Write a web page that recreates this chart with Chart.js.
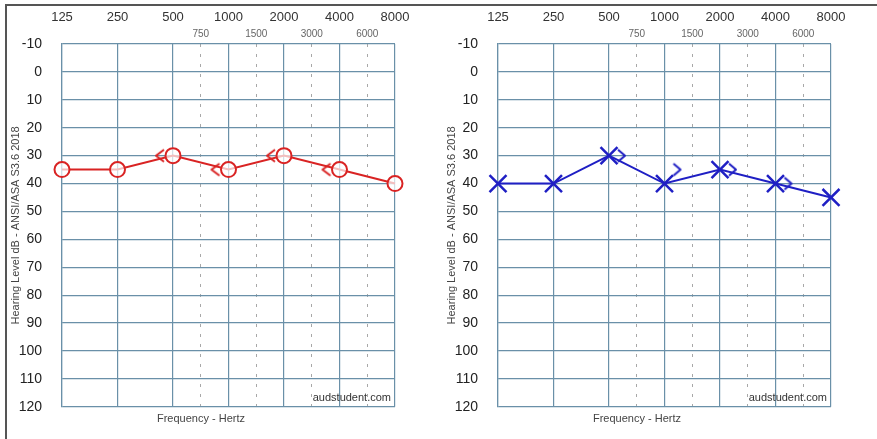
<!DOCTYPE html>
<html>
<head>
<meta charset="utf-8">
<script src="https://cdn.jsdelivr.net/npm/chart.js@4.4.0/dist/chart.umd.min.js"></script>
<style>
    body { margin: 0; background: #fff; }
    #page { position: relative; width: 877px; height: 439px; overflow: hidden; }
    #cadre { position: absolute; left: 5px; top: 4px; right: 0; bottom: 0; border-left: 2px solid #555; border-top: 2px solid #555; }
    canvas { position: absolute; top: 0; }
</style>
</head>
<body>
<div id="page">
    <div id="cadre"></div>
    <canvas id="gauche" width="437" height="439" style="left:0"></canvas>
    <canvas id="droite" width="437" height="439" style="left:436px"></canvas>
</div>
<script>
// fréquences (Hz) en octaves, et demi-octaves
const frequences = ['125', '250', '500', '1000', '2000', '4000', '8000'];
const demiOctaves = ['750', '1500', '3000', '6000'];
const positionsDemi = [2.5, 3.5, 4.5, 5.5];

// oreille droite (rouge) : conduction aérienne et osseuse
const aerienneDroite = [35, 35, 30, 35, 30, 35, 40];
const osseuseDroiteX = [2, 3, 4, 5];
const osseuseDroite = [30, 35, 30, 35];

// oreille gauche (bleu)
const aerienneGauche = [40, 40, 30, 40, 35, 40, 45];
const osseuseGaucheX = [2, 3, 4, 5];
const osseuseGauche = [30, 35, 35, 40];

const ROUGE = '#d92323';
const BLEU = '#1f1fc4';
const GRILLE = '#6a90a8';
const POLICE = 'Liberation Sans, Arial, sans-serif';

/**
 * Dessine un chevron < ou > dans un petit canvas, décalé du centre
 */
function chevron(sens, couleur) {
    const c = document.createElement('canvas');
    c.width = 40;
    c.height = 18;
    const ctx = c.getContext('2d');
    ctx.strokeStyle = couleur;
    ctx.lineWidth = 2;
    ctx.lineJoin = 'round';
    ctx.beginPath();
    if (sens === '<') {
        ctx.moveTo(11, 3);
        ctx.lineTo(3, 9);
        ctx.lineTo(11, 15);
    } else {
        ctx.moveTo(29, 3);
        ctx.lineTo(36, 9);
        ctx.lineTo(29, 15);
    }
    ctx.stroke();
    return c;
}

const filigrane = {
    id: 'filigrane',
    afterDraw(chart) {
        const {ctx, chartArea} = chart;
        ctx.save();
        ctx.font = '11px ' + POLICE;
        ctx.fillStyle = '#333';
        ctx.textAlign = 'right';
        ctx.textBaseline = 'middle';
        ctx.fillText('audstudent.com', chartArea.right - 4, chartArea.bottom - 9);
        ctx.restore();
    }
};

function audiogramme(id, aerienne, osseuseX, osseuse, couleur, style, sens) {
    const ctx = document.getElementById(id).getContext('2d');
    const pointsAir = aerienne.map((v, i) => ({x: i, y: v}));
    const pointsOs = osseuse.map((v, i) => ({x: osseuseX[i], y: v}));
    const air = {
        label: 'AC',
        data: pointsAir,
        clip: false,
        borderColor: couleur,
        borderWidth: 2,
        pointStyle: style,
        pointBorderColor: couleur,
        pointBackgroundColor: 'rgba(255,255,255,0.7)',
        pointBorderWidth: style === 'circle' ? 2 : 2.5,
        pointRadius: style === 'circle' ? 7.5 : 12,
        fill: false
    };
    const os = {
        label: 'BC',
        data: pointsOs,
        clip: false,
        showLine: false,
        pointStyle: chevron(sens, couleur)
    };
    return new Chart(ctx, {
        type: 'line',
        data: {datasets: [air, os]},
        plugins: [filigrane],
        options: {
            responsive: false,
            animation: false,
            layout: {padding: {left: 7, right: 42, top: 6, bottom: 0}},
            scales: {
                x: {
                    type: 'linear',
                    position: 'top',
                    min: 0,
                    max: 6,
                    weight: 1,
                    afterBuildTicks: s => { s.ticks = frequences.map((f, i) => ({value: i})); },
                    afterFit: s => { s.height = 21; },
                    ticks: {
                        autoSkip: false,
                        maxRotation: 0,
                        padding: 2,
                        color: '#333',
                        font: {family: POLICE, size: 13},
                        callback: v => frequences[v]
                    },
                    grid: {color: GRILLE, lineWidth: 1.2, drawTicks: false},
                    border: {display: false}
                },
                x2: {
                    type: 'linear',
                    position: 'top',
                    min: 0,
                    max: 6,
                    weight: 0,
                    afterBuildTicks: s => { s.ticks = positionsDemi.map(p => ({value: p})); },
                    afterFit: s => { s.height = 17; },
                    ticks: {
                        autoSkip: false,
                        maxRotation: 0,
                        padding: 4,
                        color: '#666',
                        font: {family: POLICE, size: 10},
                        callback: v => demiOctaves[positionsDemi.indexOf(v)]
                    },
                    grid: {color: '#a8a8a8', drawTicks: false},
                    border: {display: false, dash: [3, 7]}
                },
                y: {
                    type: 'linear',
                    reverse: true,
                    min: -10,
                    max: 120,
                    afterFit: s => { s.width = 55; },
                    ticks: {
                        stepSize: 10,
                        padding: 20,
                        color: '#222',
                        font: {family: POLICE, size: 14}
                    },
                    grid: {color: GRILLE, lineWidth: 1.2, drawTicks: false},
                    border: {color: GRILLE, width: 1.2},
                    title: {
                        display: true,
                        text: 'Hearing Level dB - ANSI/ASA S3.6 2018',
                        color: '#444',
                        font: {family: POLICE, size: 11},
                        padding: {top: 2, bottom: 0}
                    }
                }
            },
            plugins: {
                legend: {display: false},
                tooltip: {enabled: false},
                title: {
                    display: true,
                    position: 'bottom',
                    text: 'Frequency - Hertz',
                    color: '#444',
                    font: {family: POLICE, size: 11, weight: 'normal'},
                    padding: {top: 6, bottom: 13}
                }
            }
        }
    });
}

audiogramme('gauche', aerienneDroite, osseuseDroiteX, osseuseDroite, ROUGE, 'circle', '<');
audiogramme('droite', aerienneGauche, osseuseGaucheX, osseuseGauche, BLEU, 'crossRot', '>');
</script>
</body>
</html>
